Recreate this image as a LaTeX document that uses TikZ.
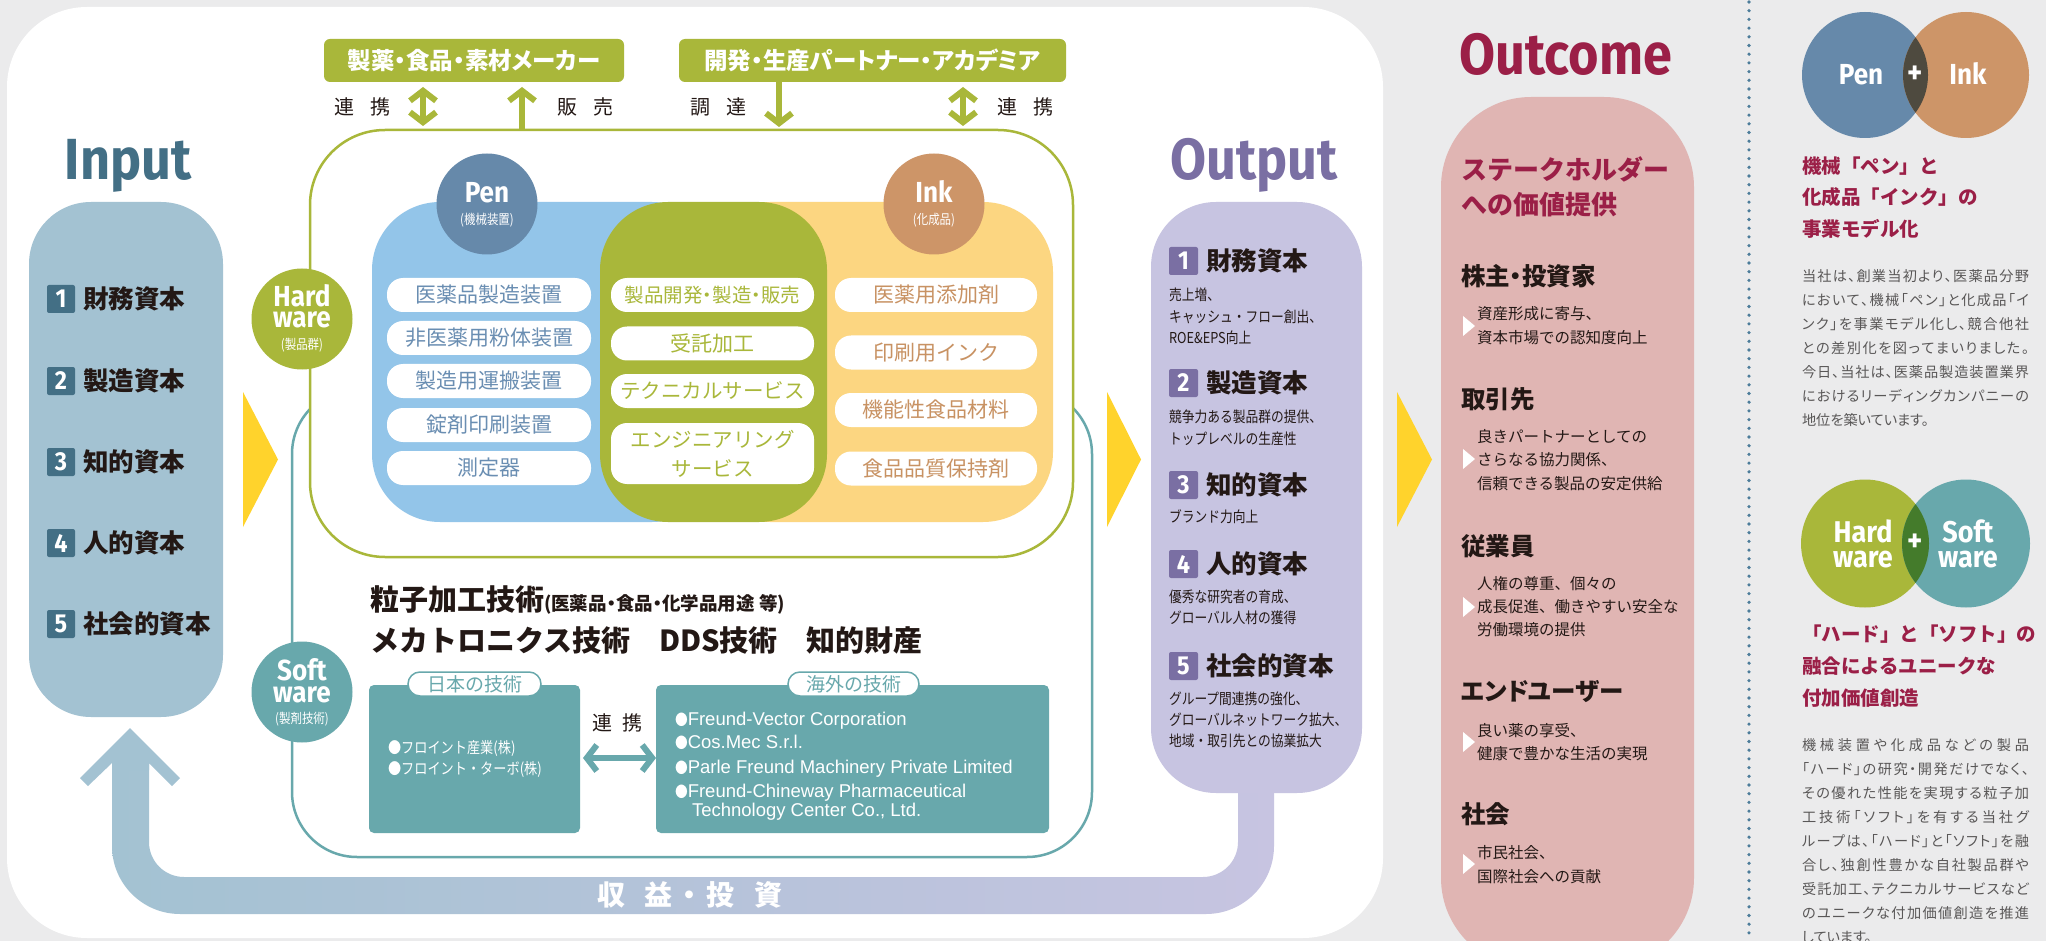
\documentclass[tikz,border=0pt]{standalone}
\usepackage{fontspec}
\usetikzlibrary{arrows.meta}
\setmainfont{Noto Sans CJK JP}
\newfontfamily\jp{Noto Sans CJK JP}
\newfontfamily\jpc{Noto Sans CJK JP}[FakeStretch=0.85]
\newfontfamily\jpp{Noto Sans CJK JP}[RawFeature=+palt]
\newfontfamily\din{Fira Sans}[FakeStretch=0.9]
\newfontfamily\cond{Liberation Sans}
\newcommand\fsz[1]{\fontsize{#1}{#1}\selectfont}
\newcommand\spreadto[2]{\hbox to #1{\spreadaux#2\relax\unskip}}
\def\spreadaux#1{\ifx\relax#1\else#1\hskip 0pt plus 1fil\expandafter\spreadaux\fi}

\definecolor{bggrey}{HTML}{EBEBEC}
\definecolor{inputblue}{HTML}{A3C2D2}
\definecolor{inputdark}{HTML}{436F85}
\definecolor{olive}{HTML}{A9B73A}
\definecolor{tealc}{HTML}{68A8AC}
\definecolor{penblue}{HTML}{6689AA}
\definecolor{penlight}{HTML}{93C5E9}
\definecolor{pentext}{HTML}{6A8EB2}
\definecolor{inkbrown}{HTML}{CD9568}
\definecolor{inklight}{HTML}{FCD681}
\definecolor{inktext}{HTML}{C89263}
\definecolor{yellowc}{HTML}{FFD32C}
\definecolor{outlav}{HTML}{C7C4E1}
\definecolor{outpurple}{HTML}{7A6FA3}
\definecolor{outpink}{HTML}{E0B5B3}
\definecolor{crimson}{HTML}{9B1F47}
\definecolor{darktext}{HTML}{231815}
\definecolor{greytext}{HTML}{595757}
\definecolor{dotcol}{HTML}{4C7C9A}
\definecolor{venndark}{HTML}{4E4A3F}
\definecolor{venngreen}{HTML}{447B2B}

\tikzset{
  mybarb/.tip={Straight Barb[length=10pt,width=26pt]},
  numbox/.style={minimum width=28, minimum height=28, rounded corners=2, text=white, font=\din\bfseries\fsz{26}},
  pill/.style={fill=white, rounded corners=16, minimum height=34},
  topbox/.style={fill=olive, rounded corners=6, minimum height=43, text=white, font=\jpp\bfseries\fsz{23.5}},
  oline/.style={draw=olive, line width=6},
  tline/.style={draw=tealc, line width=6},
  lbl/.style={font=\jp\fsz{20}, text=darktext},
  bigtitle/.style={anchor=base, font=\din\bfseries\fsz{58}},
  circtxt/.style={anchor=base, text=white, font=\din\bfseries\fsz{29}, text height=19, text depth=0},
  circlow/.style={anchor=base, text=white, font=\din\bfseries\fsz{29}, text height=14, text depth=0},
  circsub/.style={text=white, font=\jpc\fsz{13.5}, text height=10, text depth=2},
  odesc/.style={anchor=west, text=darktext, font=\jpc\fsz{15}},
  ohead/.style={anchor=west, text=darktext, font=\jp\bfseries\fsz{25.5}},
  cdesc/.style={anchor=west, text=darktext, font=\jp\fsz{15.5}},
  chead/.style={anchor=west, text=darktext, font=\jpp\bfseries\fsz{24.5}},
  rtitle/.style={anchor=west, text=crimson, font=\jp\bfseries\fsz{19.5}},
  para/.style={anchor=west, text=greytext, font=\jpp\fsz{14.2}},
  ositem/.style={anchor=base west, text=white, font=\cond\fsz{18.5}},
  jpitem/.style={anchor=west, text=white, font=\jpc\fsz{15.5}},
  tab/.style={fill=white, draw=tealc, line width=1.5, rounded corners=12, minimum height=24, text=tealc, font=\jp\fsz{19}},
}

\begin{document}
\begin{tikzpicture}[x=1pt,y=-1pt,every node/.style={inner sep=0pt,outer sep=0pt}]
\useasboundingbox (0,0) rectangle (2046,941);
\clip (0,0) rectangle (2046,941);
\fill[bggrey] (0,0) rectangle (2046,941);
\fill[white, rounded corners=80] (7,7) rectangle (1383,938);

% ---------- return band (revenue / investment) ----------
\shade[left color=inputblue, right color=outlav]
  (112,762) -- (112,846) arc[start angle=180, end angle=90, radius=68]
  -- (1206,914) arc[start angle=90, end angle=0, radius=68]
  -- (1274,780) -- (1238,780) -- (1238,842) arc[start angle=0, end angle=90, radius=35]
  -- (184,877) arc[start angle=90, end angle=180, radius=35] -- (149,762) -- cycle;
\fill[inputblue] (130,728) -- (180,778) -- (172,786) -- (149,763) -- (149,770)
  -- (112,770) -- (112,763) -- (88,786) -- (80,778) -- cycle;
\node[text=white, font=\jp\bfseries\fsz{28}] (ret) at (690,895)
  {収\hspace{20pt}益\hspace{3pt}・\hspace{3pt}投\hspace{20pt}資};

% ---------- Input ----------
\node[bigtitle, text=inputdark] (tin) at (128,180) {Input};
\node[fill=inputblue, rounded corners=62, minimum width=194, minimum height=515] (inbox) at (126,459.5) {};
\foreach \y/\n/\t in {299/1/財務資本,381/2/製造資本,462/3/知的資本,543/4/人的資本,624/5/社会的資本}{
  \node[numbox, fill=inputdark] (in\n) at (61,\y) {\n};
  \node[anchor=west, font=\jp\bfseries\fsz{25.5}, text=darktext] (it\n) at (83,\y) {\t};
}

% ---------- top partner boxes ----------
\node[topbox, minimum width=300] (sup1) at (474,60.5) {製薬・食品・素材メーカー};
\node[topbox, minimum width=387] (sup2) at (872.5,60.5) {開発・生産パートナー・アカデミア};

% ---------- frames ----------
\node[draw=tealc, line width=2.5, rounded corners=65, minimum width=800, minimum height=468] (swframe) at (692,623) {};
\node[draw=olive, line width=2.5, fill=white, rounded corners=75, minimum width=763, minimum height=427] (hwframe) at (691.5,343.5) {};

\coordinate (ax1) at (423,0);
\coordinate (ax2) at (522,0);
\coordinate (ax3) at (779,0);
\coordinate (ax4) at (963,0);
\draw[oline, mybarb-mybarb, shorten <=5, shorten >=4] (sup1.south -| ax1) -- (hwframe.north -| ax1);
\draw[oline, -mybarb, shorten >=5] (hwframe.north -| ax2) -- (sup1.south -| ax2);
\draw[oline, -mybarb, shorten >=3] (sup2.south -| ax3) -- (hwframe.north -| ax3);
\draw[oline, mybarb-mybarb, shorten <=5, shorten >=4] (sup2.south -| ax4) -- (hwframe.north -| ax4);
\node[lbl] (l1) at (362,107) {連\hspace{16pt}携};
\node[lbl] (l2) at (585,107) {販\hspace{16pt}売};
\node[lbl] (l3) at (718,107) {調\hspace{16pt}達};
\node[lbl] (l4) at (1025,107) {連\hspace{16pt}携};

% ---------- Pen / Ink regions ----------
\fill[penlight, rounded corners=68] (372,202) rectangle (720,522);
\fill[inklight, rounded corners=70] (700,202) rectangle (1053,522);
\fill[olive, rounded corners=68] (600,202) rectangle (827,522);

\node[circle, fill=penblue, minimum size=101] (pen) at (487,204) {};
\node[circtxt] (pent) at (487,203) {Pen};
\node[circsub] (pens) at (487,221) {(機械装置)};
\node[circle, fill=inkbrown, minimum size=101] (ink) at (934,204) {};
\node[circtxt] (inkt) at (934,203) {Ink};
\node[circsub] (inks) at (934,221) {(化成品)};

\foreach \y/\t [count=\i] in {295/医薬品製造装置,338/非医薬用粉体装置,381/製造用運搬装置,425/錠剤印刷装置,468/測定器}{
  \node[pill, minimum width=204, text=pentext, font=\jp\fsz{21}] (bp\i) at (489,\y) {\t};
}
\node[pill, minimum width=203, text=olive, font=\jpp\fsz{19.5}] (gp1) at (712.5,295) {製品開発・製造・販売};
\node[pill, minimum width=203, text=olive, font=\jp\fsz{21}] (gp2) at (712.5,343.5) {受託加工};
\node[pill, minimum width=203, text=olive, font=\jp\fsz{20.5}] (gp3) at (712.5,391) {テクニカルサービス};
\node[pill, minimum width=203, minimum height=61, text=olive, align=center, font=\jp\fontsize{20.5}{29}\selectfont] (gp4) at (712.5,453.5) {エンジニアリング\\サービス};
\foreach \y/\t [count=\i] in {295/医薬用添加剤,352.5/印刷用インク,410/機能性食品材料,468.5/食品品質保持剤}{
  \node[pill, minimum width=202, text=inktext, font=\jp\fsz{21}] (op\i) at (936,\y) {\t};
}

% ---------- Hardware / Software circles ----------
\node[circle, fill=olive, minimum size=101] (hw) at (302,319) {};
\node[circtxt] (hw1) at (302,307) {Hard};
\node[circlow] (hw2) at (302,328) {ware};
\node[circsub] (hw3) at (302,345) {(製品群)};
\node[circle, fill=tealc, minimum size=101] (sw) at (302,692) {};
\node[circtxt] (sw1) at (302,680) {Soft};
\node[circlow] (sw2) at (302,702) {ware};
\node[circsub] (sw3) at (302,719) {(製剤技術)};

% ---------- Software content ----------
\node[anchor=west, font=\jp\bfseries\fsz{29}, text=darktext] (tech1) at (370,600)
  {粒子加工技術{\jpp\fsz{18.5}(医薬品・食品・化学品用途 等)}};
\node[anchor=west, font=\jp\bfseries\fsz{29}, text=darktext] (tech2) at (370,640)
  {メカトロニクス技術　DDS技術　知的財産};

\node[fill=tealc, rounded corners=5, minimum width=211, minimum height=148] (jpbox) at (474.5,759) {};
\node[tab, minimum width=133] (jptab) at (474.5,684) {日本の技術};
\node[jpitem] (j1) at (388,748) {●フロイント産業(株)};
\node[jpitem] (j2) at (388,770) {●フロイント・ターボ(株)};

\node[fill=tealc, rounded corners=5, minimum width=393, minimum height=148] (osbox) at (852.5,759) {};
\node[tab, minimum width=131] (ostab) at (853.5,684) {海外の技術};
\node[ositem] (o1) at (675,725) {{\jpc\fsz{15}●}Freund-Vector Corporation};
\node[ositem] (o2) at (675,748) {{\jpc\fsz{15}●}Cos.Mec S.r.l.};
\node[ositem] (o3) at (675,773) {{\jpc\fsz{15}●}Parle Freund Machinery Private Limited};
\node[ositem] (o4) at (675,797) {{\jpc\fsz{15}●}Freund-Chineway Pharmaceutical};
\node[ositem] (o5) at (692,816) {Technology Center Co., Ltd.};

\coordinate (ay) at (0,758);
\draw[tline, mybarb-mybarb, shorten <=3] (jpbox.east |- ay) -- (osbox.west |- ay);
\node[lbl] (l5) at (617,723) {連\hspace{10pt}携};

% ---------- chevrons ----------
\fill[yellowc] (243,392) -- (278,459.5) -- (243,527) -- cycle;
\fill[yellowc] (1107,392) -- (1141,459.5) -- (1107,527) -- cycle;
\fill[yellowc] (1397,392) -- (1432,459.5) -- (1397,527) -- cycle;

% ---------- Output ----------
\node[bigtitle, text=outpurple] (tout) at (1254,180) {Output};
\node[fill=outlav, rounded corners=65, minimum width=211, minimum height=591] (outbox) at (1256.5,497.5) {};
\foreach \y/\n/\t in {261/1/財務資本,383/2/製造資本,485/3/知的資本,564/4/人的資本,666/5/社会的資本}{
  \node[numbox, fill=outpurple, minimum width=29] (on\n) at (1183.5,\y) {\n};
  \node[ohead] (ot\n) at (1206,\y) {\t};
}
\foreach \y/\t [count=\i] in {295/売上増、,317/キャッシュ・フロー創出、,338/ROE\&EPS向上,417/競争力ある製品群の提供、,439/トップレベルの生産性,517/ブランド力向上,597/優秀な研究者の育成、,618/グローバル人材の獲得,699/グループ間連携の強化、,720/グローバルネットワーク拡大、,741/地域・取引先との協業拡大}{
  \node[odesc] (od\i) at (1169,\y) {\t};
}

% ---------- Outcome ----------
\node[anchor=base, text=crimson, font=\din\bfseries\fsz{58}] (toc) at (1566,75) {Outcome};
\fill[outpink, rounded corners=90] (1441,97) rectangle (1694,968);
\node[anchor=west, text=crimson, font=\jp\bfseries\fsz{26}] (oc1) at (1461,169) {ステークホルダー};
\node[anchor=west, text=crimson, font=\jp\bfseries\fsz{26}] (oc2) at (1461,205) {への価値提供};
\foreach \y/\t [count=\i] in {276/株主・投資家,399/取引先,546/従業員,692/エンドユーザー,814/社会}{
  \node[chead] (ch\i) at (1461,\y) {\t};
}
\foreach \y/\t [count=\i] in {314/資産形成に寄与、,338/資本市場での認知度向上,437/良きパートナーとしての,460/さらなる協力関係、,484/信頼できる製品の安定供給,584/人権の尊重、個々の,607/成長促進、働きやすい安全な,630/労働環境の提供,731/良い薬の享受、,754/健康で豊かな生活の実現,853/市民社会、,877/国際社会への貢献}{
  \node[cdesc] (cd\i) at (1477,\y) {\t};
}
\foreach \y in {326,459,607,742,864}{
  \fill[white] (1463,\y-10) -- (1475,\y) -- (1463,\y+10) -- cycle;
}

% ---------- dotted divider ----------
\draw[dotcol, line width=3.6, line cap=round, dash pattern=on 0pt off 8.7pt] (1749,2) -- (1749,941);

% ---------- right column: Pen + Ink ----------
\fill[penblue] (1865,75) circle[radius=63];
\fill[inkbrown] (1966,75) circle[radius=63];
\begin{scope}
  \clip (1865,75) circle[radius=63];
  \fill[venndark] (1966,75) circle[radius=63];
\end{scope}
\node[circtxt] (vp) at (1861,85) {Pen};
\node[circtxt] (vi) at (1968,85) {Ink};
\node[text=white, font=\din\bfseries\fsz{32}] (vplus) at (1915,75) {+};
\node[rtitle] (rt1) at (1802,166) {機械「ペン」と};
\node[rtitle] (rt2) at (1802,197) {化成品「インク」の};
\node[rtitle] (rt3) at (1802,229) {事業モデル化};
\node[para] (pa1) at (1802,276) {\spreadto{227pt}{当社は、創業当初より、医薬品分野}};
\node[para] (pa2) at (1802,300) {\spreadto{227pt}{において、機械「ペン」と化成品「イ}};
\node[para] (pa3) at (1802,324) {\spreadto{227pt}{ンク」を事業モデル化し、競合他社}};
\node[para] (pa4) at (1802,348) {\spreadto{227pt}{との差別化を図ってまいりました。}};
\node[para] (pa5) at (1802,372) {\spreadto{227pt}{今日、当社は、医薬品製造装置業界}};
\node[para] (pa6) at (1802,396) {\spreadto{227pt}{におけるリーディングカンパニーの}};
\node[para] (pa7) at (1802,420) {地位を築いています。};

% ---------- right column: Hard + Soft ----------
\fill[olive] (1865,543.5) circle[radius=64];
\fill[tealc] (1966,543.5) circle[radius=64];
\begin{scope}
  \clip (1865,543.5) circle[radius=64];
  \fill[venngreen] (1966,543.5) circle[radius=64];
\end{scope}
\node[circtxt, font=\din\bfseries\fsz{30}] (vh1) at (1863,542) {Hard};
\node[circlow, font=\din\bfseries\fsz{30}] (vh2) at (1863,567) {ware};
\node[circtxt, font=\din\bfseries\fsz{30}] (vs1) at (1968,542) {Soft};
\node[circlow, font=\din\bfseries\fsz{30}] (vs2) at (1968,567) {ware};
\node[text=white, font=\din\bfseries\fsz{32}] (vplus2) at (1915,543) {+};
\node[rtitle] (rt4) at (1802,634) {「ハード」と「ソフト」の};
\node[rtitle] (rt5) at (1802,666) {融合によるユニークな};
\node[rtitle] (rt6) at (1802,698) {付加価値創造};
\node[para] (pb1) at (1802,745) {\spreadto{227pt}{機械装置や化成品などの製品}};
\node[para] (pb2) at (1802,769) {\spreadto{227pt}{「ハード」の研究・開発だけでなく、}};
\node[para] (pb3) at (1802,793) {\spreadto{227pt}{その優れた性能を実現する粒子加}};
\node[para] (pb4) at (1802,817) {\spreadto{227pt}{工技術「ソフト」を有する当社グ}};
\node[para] (pb5) at (1802,841) {\spreadto{227pt}{ループは、「ハード」と「ソフト」を融}};
\node[para] (pb6) at (1802,865) {\spreadto{227pt}{合し、独創性豊かな自社製品群や}};
\node[para] (pb7) at (1802,889) {\spreadto{227pt}{受託加工、テクニカルサービスなど}};
\node[para] (pb8) at (1802,913) {\spreadto{227pt}{のユニークな付加価値創造を推進}};
\node[para] (pb9) at (1802,937) {しています。};
\end{tikzpicture}
\end{document}
